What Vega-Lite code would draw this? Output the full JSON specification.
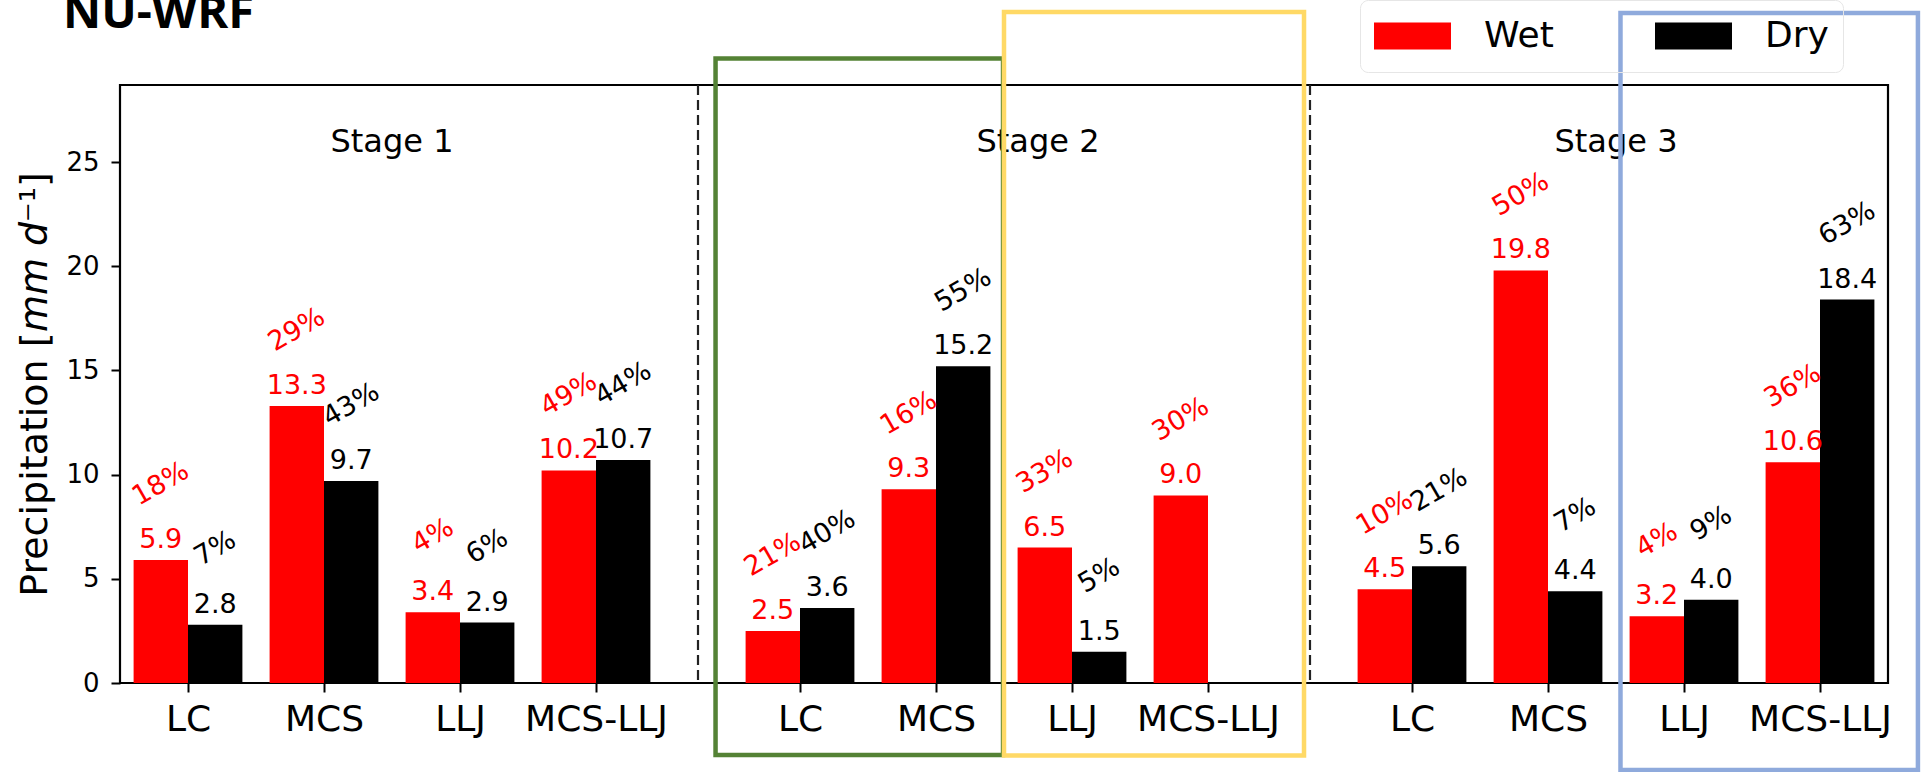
{
  "$schema": "https://vega.github.io/schema/vega-lite/v6.json",
  "width": 1768,
  "height": 598,
  "autosize": {"type": "none"},
  "padding": {"left": 120, "top": 85, "right": 33, "bottom": 89},
  "background": "white",
  "title": {
    "text": "NU-WRF",
    "anchor": "start",
    "frame": "group",
    "font": "Open Sans",
    "fontSize": 47,
    "fontWeight": "bold",
    "color": "#000",
    "offset": -38,
    "dx": -57
  },
  "config": {
    "font": "DejaVu Sans",
    "view": {"stroke": "#000", "strokeWidth": 2.2},
    "axisX": {
      "domain": false,
      "grid": false,
      "tickSize": 9,
      "tickWidth": 2,
      "tickColor": "#000",
      "labelFontSize": 36,
      "labelColor": "#000",
      "labelPadding": 10,
      "labelFlush": false,
      "labelOverlap": false
    },
    "axisY": {
      "domain": false,
      "grid": false,
      "tickSize": 9,
      "tickWidth": 2,
      "tickColor": "#000",
      "labelFontSize": 26,
      "labelColor": "#000",
      "labelPadding": 12,
      "titleFontSize": 38,
      "titleFontWeight": "normal",
      "titleColor": "#000",
      "titlePadding": 11
    }
  },
  "datasets": {
    "precip": [
      {"stage": 1, "region": "LC", "type": "Wet", "value": 5.9, "pct": 0.18},
      {"stage": 1, "region": "LC", "type": "Dry", "value": 2.8, "pct": 0.07},
      {"stage": 1, "region": "MCS", "type": "Wet", "value": 13.3, "pct": 0.29},
      {"stage": 1, "region": "MCS", "type": "Dry", "value": 9.7, "pct": 0.43},
      {"stage": 1, "region": "LLJ", "type": "Wet", "value": 3.4, "pct": 0.04},
      {"stage": 1, "region": "LLJ", "type": "Dry", "value": 2.9, "pct": 0.06},
      {"stage": 1, "region": "MCS-LLJ", "type": "Wet", "value": 10.2, "pct": 0.49},
      {"stage": 1, "region": "MCS-LLJ", "type": "Dry", "value": 10.7, "pct": 0.44},
      {"stage": 2, "region": "LC", "type": "Wet", "value": 2.5, "pct": 0.21},
      {"stage": 2, "region": "LC", "type": "Dry", "value": 3.6, "pct": 0.40},
      {"stage": 2, "region": "MCS", "type": "Wet", "value": 9.3, "pct": 0.16},
      {"stage": 2, "region": "MCS", "type": "Dry", "value": 15.2, "pct": 0.55},
      {"stage": 2, "region": "LLJ", "type": "Wet", "value": 6.5, "pct": 0.33},
      {"stage": 2, "region": "LLJ", "type": "Dry", "value": 1.5, "pct": 0.05},
      {"stage": 2, "region": "MCS-LLJ", "type": "Wet", "value": 9.0, "pct": 0.30},
      {"stage": 3, "region": "LC", "type": "Wet", "value": 4.5, "pct": 0.10},
      {"stage": 3, "region": "LC", "type": "Dry", "value": 5.6, "pct": 0.21},
      {"stage": 3, "region": "MCS", "type": "Wet", "value": 19.8, "pct": 0.50},
      {"stage": 3, "region": "MCS", "type": "Dry", "value": 4.4, "pct": 0.07},
      {"stage": 3, "region": "LLJ", "type": "Wet", "value": 3.2, "pct": 0.04},
      {"stage": 3, "region": "LLJ", "type": "Dry", "value": 4.0, "pct": 0.09},
      {"stage": 3, "region": "MCS-LLJ", "type": "Wet", "value": 10.6, "pct": 0.36},
      {"stage": 3, "region": "MCS-LLJ", "type": "Dry", "value": 18.4, "pct": 0.63}
    ],
    "stages": [
      {"label": "Stage 1", "x": 1.5},
      {"label": "Stage 2", "x": 6.25},
      {"label": "Stage 3", "x": 10.5}
    ],
    "dividers": [{"x": 3.75}, {"x": 8.25}],
    "highlights": [
      {"box": "Stage 2 LC/MCS", "x0": 3.879, "x1": 5.993, "y0": -3.456, "y1": 29.97},
      {"box": "Stage 2 LLJ/MCS-LLJ", "x0": 6.0, "x1": 8.206, "y0": -3.48, "y1": 32.2},
      {"box": "Stage 3 LLJ/MCS-LLJ", "x0": 10.533, "x1": 12.72, "y0": -4.18, "y1": 32.16}
    ]
  },
  "layer": [
    {
      "data": {"name": "precip"},
      "transform": [
        {"calculate": "(datum.stage - 1) * 4.5 + indexof(['LC', 'MCS', 'LLJ', 'MCS-LLJ'], datum.region)", "as": "center"},
        {"calculate": "datum.center + (datum.type === 'Wet' ? -0.4 : 0)", "as": "left"},
        {"calculate": "datum.left + 0.4", "as": "right"}
      ],
      "mark": {"type": "rect"},
      "encoding": {
        "x": {
          "field": "left",
          "type": "quantitative",
          "scale": {"domain": [-0.5, 12.5], "nice": false, "zero": false},
          "axis": {
            "title": null,
            "values": [0, 1, 2, 3, 4.5, 5.5, 6.5, 7.5, 9, 10, 11, 12],
            "labelExpr": "['LC', 'MCS', 'LLJ', 'MCS-LLJ'][round(datum.value % 4.5)]"
          }
        },
        "x2": {"field": "right"},
        "y": {
          "field": "value",
          "type": "quantitative",
          "scale": {"domain": [0, 28.7], "nice": false, "zero": true},
          "axis": {
            "title": "Precipitation [𝘮𝘮 𝘥⁻¹]",
            "values": [0, 5, 10, 15, 20, 25]
          }
        },
        "y2": {"datum": 0},
        "color": {
          "field": "type",
          "type": "nominal",
          "scale": {"domain": ["Wet", "Dry"], "range": ["#ff0000", "#000000"]},
          "legend": {
            "orient": "none",
            "legendX": 1240,
            "legendY": -85,
            "direction": "horizontal",
            "title": null,
            "symbolType": "M-1,-0.351H1V0.351H-1Z",
            "symbolSize": 5929,
            "symbolStrokeWidth": 0,
            "clipHeight": 44,
            "labelFont": "DejaVu Sans",
            "labelFontSize": 36,
            "labelColor": "#000",
            "labelOffset": 33,
            "columnPadding": 101,
            "padding": 14,
            "strokeColor": "#e6e6e6",
            "cornerRadius": 8
          }
        }
      }
    },
    {
      "data": {"name": "precip"},
      "transform": [
        {"calculate": "(datum.stage - 1) * 4.5 + indexof(['LC', 'MCS', 'LLJ', 'MCS-LLJ'], datum.region)", "as": "center"},
        {"calculate": "datum.center + (datum.type === 'Wet' ? -0.2 : 0.2)", "as": "mid"}
      ],
      "mark": {"type": "text", "fontSize": 27, "align": "center", "baseline": "alphabetic", "dy": -12},
      "encoding": {
        "x": {"field": "mid", "type": "quantitative"},
        "y": {"field": "value", "type": "quantitative"},
        "text": {"field": "value", "type": "quantitative", "format": ".1f"},
        "color": {"field": "type", "type": "nominal"}
      }
    },
    {
      "data": {"name": "precip"},
      "transform": [
        {"calculate": "(datum.stage - 1) * 4.5 + indexof(['LC', 'MCS', 'LLJ', 'MCS-LLJ'], datum.region)", "as": "center"},
        {"calculate": "datum.center + (datum.type === 'Wet' ? -0.2 : 0.2)", "as": "mid"}
      ],
      "mark": {"type": "text", "fontSize": 27, "align": "center", "baseline": "middle", "angle": 330, "dx": 38, "dy": -65.8},
      "encoding": {
        "x": {"field": "mid", "type": "quantitative"},
        "y": {"field": "value", "type": "quantitative"},
        "text": {"field": "pct", "type": "quantitative", "format": ".0%"},
        "color": {"field": "type", "type": "nominal"}
      }
    },
    {
      "data": {"name": "dividers"},
      "mark": {"type": "rule", "color": "#222", "strokeWidth": 2.2, "strokeDash": [10, 5]},
      "encoding": {
        "x": {"field": "x", "type": "quantitative"}
      }
    },
    {
      "data": {"name": "stages"},
      "mark": {"type": "text", "fontSize": 32, "align": "center", "baseline": "alphabetic", "color": "#000"},
      "encoding": {
        "x": {"field": "x", "type": "quantitative"},
        "y": {"datum": 25.5},
        "text": {"field": "label"}
      }
    },
    {
      "data": {"name": "highlights"},
      "mark": {"type": "rect", "filled": false, "strokeWidth": 4.5, "clip": false},
      "encoding": {
        "x": {"field": "x0", "type": "quantitative"},
        "x2": {"field": "x1"},
        "y": {"field": "y0", "type": "quantitative"},
        "y2": {"field": "y1"},
        "stroke": {
          "field": "box",
          "type": "nominal",
          "scale": {
            "domain": ["Stage 2 LC/MCS", "Stage 2 LLJ/MCS-LLJ", "Stage 3 LLJ/MCS-LLJ"],
            "range": ["#548235", "#ffd966", "#8faadc"]
          },
          "legend": null
        }
      }
    }
  ]
}
